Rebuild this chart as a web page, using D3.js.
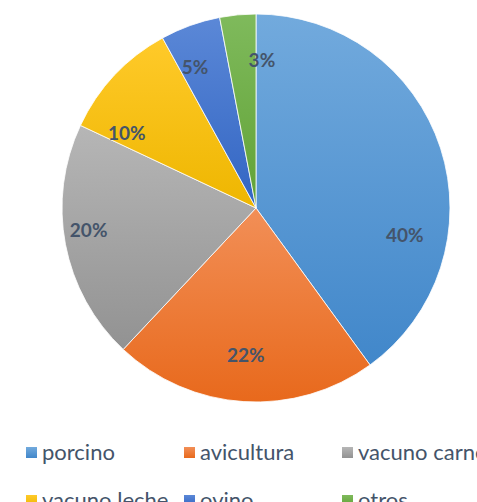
<!DOCTYPE html>
<html>
<head>
<meta charset="utf-8">
<script src="https://cdn.jsdelivr.net/npm/d3@7"></script>
<style>
  body { margin: 0; background: #fff; }
  svg { display: block; font-family: Lato, "Open Sans", sans-serif; }
</style>
</head>
<body>
<div id="chart"></div>
<script>
// data
var categories = ["porcino", "avicultura", "vacuno carne", "vacuno leche", "ovino", "otros"];
var shares = [40, 22, 20, 10, 5, 3];
var labels = ["40%", "22%", "20%", "10%", "5%", "3%"];

// office style colours (top / bottom of each slice gradient)
var colorsTop = ["#72aadd", "#f28f57", "#b6b6b6", "#ffca2a", "#5b88d7", "#7fba5c"];
var colorsBottom = ["#4187ca", "#e8691c", "#929292", "#eeb600", "#3265c3", "#61a236"];

var width = 477, height = 502;
var cx = 256, cy = 208, r = 194;

var svg = d3.select("#chart").append("svg")
  .attr("width", width).attr("height", height);

var defs = svg.append("defs");
categories.forEach(function (c, i) {
  var g = defs.append("linearGradient")
    .attr("id", "grad" + i)
    .attr("x1", 0).attr("y1", 0).attr("x2", 0).attr("y2", 1);
  g.append("stop").attr("offset", "0%").attr("stop-color", colorsTop[i]);
  g.append("stop").attr("offset", "100%").attr("stop-color", colorsBottom[i]);
});

var data = categories.map(function (c, i) { return { name: c, value: shares[i], label: labels[i], i: i }; });

var pie = d3.pie().sort(null).value(function (d) { return d.value; });
var arc = d3.arc().innerRadius(0).outerRadius(r);
var arcs = pie(data);

var g = svg.append("g").attr("transform", "translate(" + cx + "," + cy + ")");

g.selectAll("path.slice")
  .data(arcs)
  .enter().append("path")
  .attr("class", "slice")
  .attr("d", arc)
  .attr("fill", function (d) { return "url(#grad" + d.data.i + ")"; })
  .attr("stroke", "#fff")
  .attr("stroke-width", 0.8);

// label placement: angle nudge (deg) and radius fraction, like excel best fit
var labelPlace = [[28.6, 0.78], [0.4, 0.76], [3.3, 0.87], [-13, 0.77], [-3.6, 0.79], [7.7, 0.76]];

g.selectAll("text.lbl")
  .data(arcs)
  .enter().append("text")
  .attr("class", "lbl")
  .attr("transform", function (d) {
    var p = labelPlace[d.data.i];
    var a = (d.startAngle + d.endAngle) / 2 + p[0] * Math.PI / 180;
    var rr = r * p[1];
    return "translate(" + (Math.sin(a) * rr) + "," + (-Math.cos(a) * rr) + ")";
  })
  .attr("text-anchor", "middle")
  .attr("dy", "0.35em")
  .style("font-size", "19px")
  .style("font-weight", "bold")
  .style("fill", "#44546a")
  .text(function (d) { return d.data.label; });

// legend, 3 columns
var colX = [26, 184, 342];
var rowY = [447, 495];
var leg = svg.selectAll("g.leg")
  .data(data)
  .enter().append("g")
  .attr("class", "leg")
  .attr("transform", function (d, i) { return "translate(" + colX[i % 3] + "," + rowY[Math.floor(i / 3)] + ")"; });

leg.append("rect")
  .attr("width", 11).attr("height", 11)
  .attr("fill", function (d) { return "url(#grad" + d.i + ")"; });

leg.append("text")
  .attr("x", 16).attr("y", 13)
  .style("font-size", "22px")
  .style("fill", "#44546a")
  .text(function (d) { return d.name; });
</script>
</body>
</html>
